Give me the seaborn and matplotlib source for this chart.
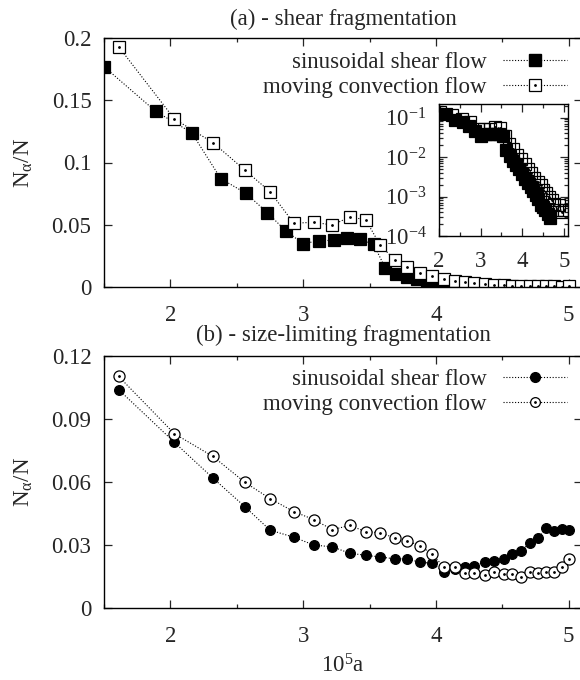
import matplotlib
matplotlib.use("Agg")
import matplotlib.pyplot as plt
import seaborn as sns
from matplotlib.lines import Line2D
from matplotlib.legend_handler import HandlerTuple
from matplotlib.ticker import MultipleLocator, LogLocator, NullFormatter

# white gnuplot-like look, Times-like serif font
sns.set_theme(style="ticks")
FS = 16.5
plt.rcParams["font.family"] = ["Liberation Serif", "DejaVu Serif"]
plt.rcParams["mathtext.fontset"] = "custom"
plt.rcParams["mathtext.rm"] = "Liberation Serif"
plt.rcParams["mathtext.it"] = "Liberation Serif:italic"
plt.rcParams.update({"font.size": FS, "xtick.labelsize": FS, "ytick.labelsize": FS,
                     "axes.labelsize": FS, "axes.titlesize": FS, "legend.fontsize": FS})

# (a) shear fragmentation
x_sq_filled = [1.50, 1.89, 2.16, 2.38, 2.57, 2.73, 2.87, 3.00, 3.12, 3.23,
               3.33, 3.43, 3.53, 3.62, 3.70, 3.78, 3.86, 3.93, 4.00, 4.07,
               4.14, 4.20, 4.27, 4.33, 4.39, 4.44, 4.50, 4.55, 4.61, 4.66]
y_sq_filled = [0.177, 0.141, 0.124, 0.087, 0.0752, 0.0597, 0.045, 0.0348, 0.0372, 0.0375,
               0.039, 0.0383, 0.0343, 0.0150, 0.0105, 0.0080, 0.0064, 0.0049, 0.0037, 0.0028,
               0.0022, 0.0017, 0.0014, 0.0011, 0.00089, 0.00062, 0.00055, 0.00045, 0.00036, 0.00028]

x_sq_open = [1.61, 2.03, 2.32, 2.56, 2.75, 2.93, 3.08, 3.22, 3.35, 3.47,
             3.58, 3.69, 3.78, 3.88, 3.97, 4.06, 4.14, 4.22, 4.29, 4.37,
             4.44, 4.51, 4.57, 4.64, 4.71, 4.77, 4.83, 4.89, 4.95, 5.00]
y_sq_open = [0.193, 0.135, 0.116, 0.094, 0.0766, 0.0512, 0.052, 0.0498, 0.0562, 0.0541,
             0.0337, 0.0217, 0.0160, 0.0112, 0.0088, 0.0065, 0.0050, 0.0039, 0.0030, 0.0023,
             0.0019, 0.0015, 0.0012, 0.00098, 0.0008, 0.00063, 0.00045, 0.0006, 0.0004, 0.00045]

# (b) size-limiting fragmentation
x_circ = [1.61, 2.03, 2.32, 2.56, 2.75, 2.93, 3.08, 3.22, 3.35, 3.47,
          3.58, 3.69, 3.78, 3.88, 3.97, 4.06, 4.14, 4.22, 4.29, 4.37,
          4.44, 4.51, 4.57, 4.64, 4.71, 4.77, 4.83, 4.89, 4.95, 5.00]
y_circ_filled = [0.104, 0.0789, 0.0619, 0.0483, 0.0371, 0.0337, 0.0300, 0.0291, 0.0261, 0.0251,
                 0.0243, 0.0234, 0.0234, 0.0218, 0.0213, 0.0172, 0.0185, 0.0194, 0.0202, 0.0218,
                 0.0226, 0.0235, 0.0256, 0.0273, 0.0309, 0.0334, 0.0380, 0.0369, 0.0378, 0.0373]
y_circ_open = [0.1103, 0.0830, 0.0722, 0.0599, 0.0521, 0.0459, 0.0421, 0.0373, 0.0393, 0.0364,
               0.0358, 0.0334, 0.0321, 0.0296, 0.0258, 0.0194, 0.0197, 0.0166, 0.0166, 0.0157,
               0.0173, 0.0162, 0.0160, 0.0149, 0.0170, 0.0166, 0.0170, 0.0173, 0.0194, 0.0232]

labels = ["sinusoidal shear flow", "moving convection flow"]
yticks_a = [0, 0.05, 0.1, 0.15, 0.2]
yticks_b = [0, 0.03, 0.06, 0.09, 0.12]
DOT = (0, (1, 1.6))


def series(ax, x, y, marker, ms, filled, face="white"):
    sns.lineplot(x=x, y=y, ax=ax, color="black", linestyle=DOT, linewidth=0.8,
                 marker=marker, markersize=ms,
                 markerfacecolor="black" if filled else face,
                 markeredgecolor="black", markeredgewidth=0.9)
    if not filled:
        ax.plot(x, y, linestyle="none", marker=".", markersize=2, color="black")


def legend(ax, marker, ms, anchor_y):
    h1 = Line2D([], [], color="black", linestyle=DOT, linewidth=0.8, marker=marker,
                markersize=ms, markerfacecolor="black", markeredgecolor="black")
    h2a = Line2D([], [], color="black", linestyle=DOT, linewidth=0.8, marker=marker,
                 markersize=ms, markerfacecolor="white", markeredgecolor="black",
                 markeredgewidth=0.9)
    h2b = Line2D([], [], linestyle="none", marker=".", markersize=2, color="black")
    ax.legend([h1, (h2a, h2b)], labels, handler_map={tuple: HandlerTuple(ndivide=1)},
              loc="upper right", bbox_to_anchor=(567 / 580, anchor_y),
              bbox_transform=fig.transFigure, frameon=False, markerfirst=False,
              handlelength=2.8, handletextpad=0.7, labelspacing=0.15,
              borderpad=0, borderaxespad=0)


def style(ax, ymax, yticks):
    ax.set_xlim(1.5, 5.1)
    ax.set_ylim(0, ymax)
    ax.xaxis.set_major_locator(MultipleLocator(1))
    ax.xaxis.set_minor_locator(MultipleLocator(0.5))
    ax.set_yticks(yticks, [f"{v:g}" for v in yticks])
    ax.tick_params(which="both", direction="in", top=True, right=True, width=0.9)
    ax.tick_params(which="major", length=6)
    ax.tick_params(which="minor", length=3)
    ax.tick_params(axis="x", pad=13)
    ax.tick_params(axis="y", pad=9)
    for s in ax.spines.values():
        s.set_linewidth(1.0)
        s.set_color("black")
    ax.set_ylabel(r"N$_{\mathrm{\alpha}}$/N", labelpad=12)


fig = plt.figure(figsize=(5.8, 6.8), dpi=100)

# panel (a)
ax1 = fig.add_axes([104 / 580, 1 - 287 / 680, 478 / 580, 249 / 680])
series(ax1, x_sq_filled, y_sq_filled, "s", 9, True)
series(ax1, x_sq_open, y_sq_open, "s", 9, False)
style(ax1, 0.2, yticks_a)
ax1.set_title("(a) - shear fragmentation", pad=9)
legend(ax1, "s", 9, 1 - 52 / 680)

# inset, log scale
ax_in = fig.add_axes([439 / 580, 1 - 236 / 680, 129 / 580, 132 / 680])
series(ax_in, x_sq_filled, y_sq_filled, "s", 9, True)
series(ax_in, x_sq_open, y_sq_open, "s", 9, False, face="none")
ax_in.set_yscale("log")
ax_in.set_xlim(2, 5.1)
ax_in.set_ylim(1e-4, 0.22)
ax_in.xaxis.set_major_locator(MultipleLocator(1))
ax_in.xaxis.set_minor_locator(MultipleLocator(0.5))
ax_in.set_yticks([1e-4, 1e-3, 1e-2, 1e-1],
                 [r"10$^{-4}$", r"10$^{-3}$", r"10$^{-2}$", r"10$^{-1}$"])
ax_in.yaxis.set_minor_locator(LogLocator(base=10, subs=range(2, 10)))
ax_in.yaxis.set_minor_formatter(NullFormatter())
ax_in.tick_params(which="both", direction="in", top=True, right=True, width=0.9)
ax_in.tick_params(which="major", length=6)
ax_in.tick_params(which="minor", length=3)
ax_in.tick_params(axis="x", pad=11)
ax_in.tick_params(axis="y", pad=9)
for s in ax_in.spines.values():
    s.set_linewidth(1.0)
    s.set_color("black")
ax_in.set_xlabel("")
ax_in.set_ylabel("")

# panel (b)
ax2 = fig.add_axes([104 / 580, 1 - 608 / 680, 478 / 580, 252 / 680])
series(ax2, x_circ, y_circ_filled, "o", 7, True)
series(ax2, x_circ, y_circ_open, "o", 8, False)
style(ax2, 0.12, yticks_b)
ax2.set_title("(b) - size-limiting fragmentation", pad=10.5)
ax2.set_xlabel(r"10$^5$a", labelpad=5)
legend(ax2, "o", 7, 1 - 369 / 680)

fig.savefig("out.png", dpi=100)
